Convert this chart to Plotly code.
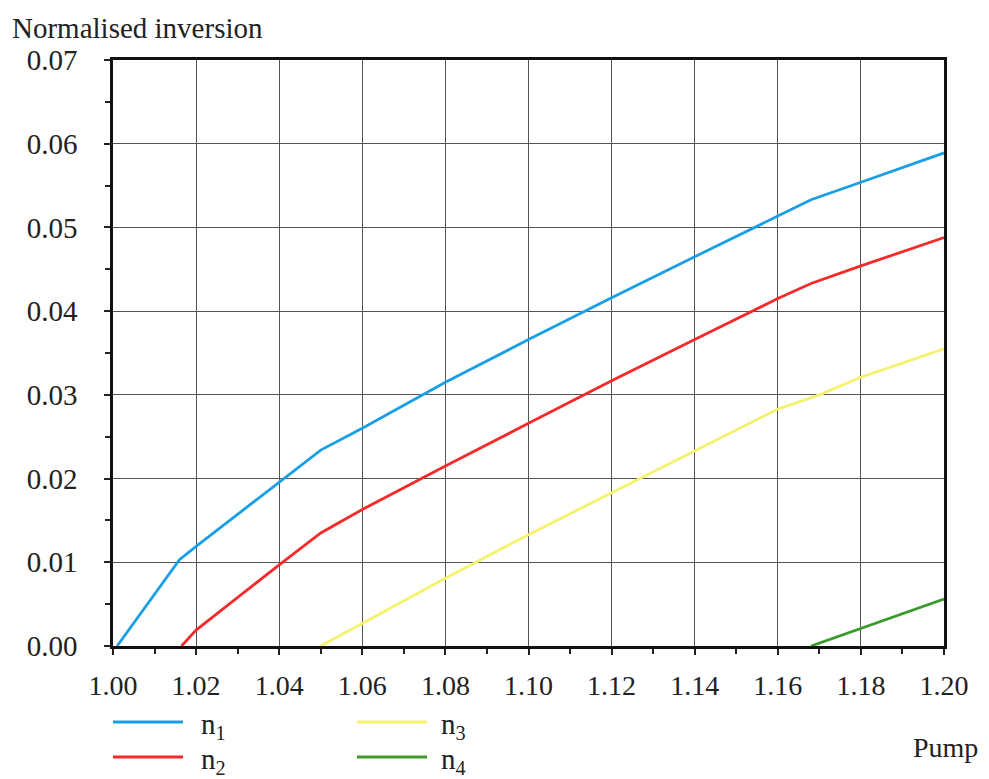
import plotly.graph_objects as go

# Data
n1_x = [1.001, 1.016, 1.020, 1.040, 1.050, 1.060, 1.080, 1.100, 1.120, 1.140, 1.160, 1.168, 1.180, 1.200]
n1_y = [0.0000, 0.0103, 0.0119, 0.0196, 0.0234, 0.0260, 0.0315, 0.0366, 0.0416, 0.0465, 0.0513, 0.0533, 0.0554, 0.0589]
n2_x = [1.0165, 1.020, 1.040, 1.050, 1.060, 1.080, 1.100, 1.120, 1.140, 1.160, 1.168, 1.180, 1.200]
n2_y = [0.0000, 0.0019, 0.0097, 0.0135, 0.0163, 0.0215, 0.0266, 0.0317, 0.0366, 0.0415, 0.0433, 0.0454, 0.0488]
n3_x = [1.050, 1.060, 1.080, 1.100, 1.120, 1.140, 1.160, 1.170, 1.180, 1.200]
n3_y = [0.0000, 0.0027, 0.0081, 0.0133, 0.0183, 0.0233, 0.0283, 0.0300, 0.0321, 0.0355]
n4_x = [1.168, 1.180, 1.200]
n4_y = [0.0000, 0.0021, 0.0056]

series_names = ["n<sub>1</sub>", "n<sub>2</sub>", "n<sub>3</sub>", "n<sub>4</sub>"]
series_colors = ["#1a9fe6", "#f52a2a", "#f5f26e", "#3a9a2a"]

x_ticks = [1.00, 1.02, 1.04, 1.06, 1.08, 1.10, 1.12, 1.14, 1.16, 1.18, 1.20]
y_ticks = [0.00, 0.01, 0.02, 0.03, 0.04, 0.05, 0.06, 0.07]

FONT = "Liberation Serif, Times New Roman, serif"
TXT = "#222222"

fig = go.Figure()
data = [(n1_x, n1_y), (n2_x, n2_y), (n3_x, n3_y), (n4_x, n4_y)]
for (xs, ys), name, col in zip(data, series_names, series_colors):
    fig.add_trace(go.Scatter(x=xs, y=ys, mode="lines", name=name,
                             line=dict(color=col, width=2.8), showlegend=False))

axis_common = dict(
    showgrid=True, gridcolor="#555555", gridwidth=1.2,
    showline=True, linecolor="#111111", linewidth=2.5, mirror=True,
    ticks="outside", ticklen=6, tickwidth=2, tickcolor="#222222",
    zeroline=False, automargin=False,
    minor=dict(ticks="outside", ticklen=5, tickwidth=2, tickcolor="#222222", showgrid=False),
)

fig.update_xaxes(range=[1.0, 1.2], tickvals=x_ticks, tickformat=".2f",
                 ticklabelstandoff=7, tickfont=dict(family=FONT, size=28, color=TXT),
                 **axis_common)
fig.update_xaxes(minor=dict(dtick=0.01, tick0=1.0))
fig.update_yaxes(range=[0.0, 0.07], tickvals=y_ticks, tickformat=".2f",
                 ticklabelstandoff=21, tickfont=dict(family=FONT, size=29, color=TXT),
                 **axis_common)
fig.update_yaxes(minor=dict(dtick=0.005, tick0=0.0))

# Legend drawn as sample lines + labels below the plot (two columns)
leg_x0 = [0.0, 0.0, 0.2936, 0.2936]
leg_x1 = [0.0842, 0.0842, 0.3779, 0.3779]
leg_y = [-0.1297, -0.1894, -0.1297, -0.1894]
leg_tx = [0.1030, 0.1030, 0.3920, 0.3920]

shapes = []
annotations = []
for i in range(4):
    shapes.append(dict(type="line", xref="paper", yref="paper",
                       x0=leg_x0[i], x1=leg_x1[i], y0=leg_y[i], y1=leg_y[i],
                       line=dict(color=series_colors[i], width=3)))
    annotations.append(dict(text=series_names[i], xref="paper", yref="paper",
                            x=leg_tx[i], y=leg_y[i] - 0.006, xanchor="left", yanchor="middle",
                            showarrow=False, font=dict(family=FONT, size=29, color=TXT)))

annotations += [
    dict(text="Normalised inversion", xref="paper", yref="paper",
         x=-0.124, y=1.055, xanchor="left", yanchor="middle", showarrow=False,
         font=dict(family=FONT, size=29, color=TXT)),
    dict(text="Pump", xref="paper", yref="paper",
         x=1.0433, y=-0.174, xanchor="right", yanchor="middle", showarrow=False,
         font=dict(family=FONT, size=28, color=TXT)),
]

# The page body adds an 8px offset, so the figure is 8px smaller and margins shifted
fig.update_layout(
    width=981, height=771,
    margin=dict(l=105, r=45, t=52, b=133),
    paper_bgcolor="white", plot_bgcolor="white",
    font=dict(family=FONT, size=28, color=TXT),
    showlegend=False,
    shapes=shapes,
    annotations=annotations,
)

fig.write_html("out.html")
